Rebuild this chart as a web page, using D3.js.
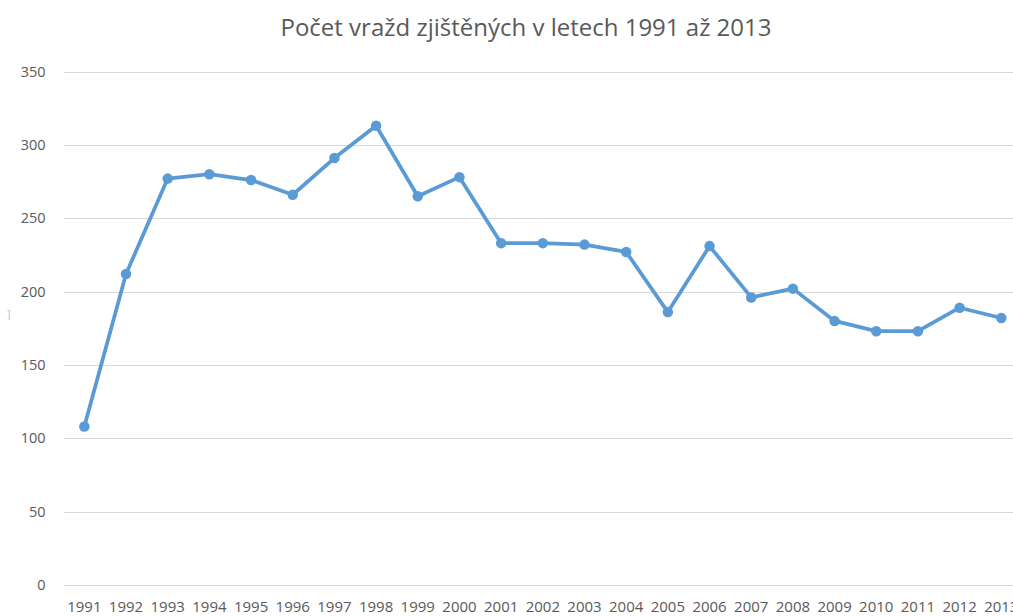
<!DOCTYPE html>
<html>
<head>
<meta charset="utf-8">
<script src="https://cdn.jsdelivr.net/npm/d3@7"></script>
<style>
  html, body { margin: 0; padding: 0; background: #fff; }
  svg { display: block; }
  text { font-family: "Open Sans", "Noto Sans", sans-serif; }
</style>
</head>
<body>
<svg id="chart" width="1013" height="616"></svg>
<script>
const title = "Počet vražd zjištěných v letech 1991 až 2013";
const years = ["1991","1992","1993","1994","1995","1996","1997","1998","1999","2000","2001","2002","2003","2004","2005","2006","2007","2008","2009","2010","2011","2012","2013"];
const murders = [108, 212, 277, 280, 276, 266, 291, 313, 265, 278, 233, 233, 232, 227, 186, 231, 196, 202, 180, 173, 173, 189, 182];
const yTicks = [0, 50, 100, 150, 200, 250, 300, 350];

const svg = d3.select("#chart");
const W = 1013, H = 616;
const plotLeft = 63.5, plotTop = 71.5, plotBottom = 585;

const x = d3.scaleBand().domain(years).range([plotLeft, plotLeft + 23 * 41.68]).padding(0);
const y = d3.scaleLinear().domain([0, 350]).range([plotBottom, plotTop]);
const cx = d => x(d) + x.bandwidth() / 2;

// title
svg.append("text")
  .attr("x", 526).attr("y", 36)
  .attr("text-anchor", "middle")
  .attr("font-size", 24)
  .attr("fill", "#595959")
  .text(title);

// gridlines
svg.append("g").selectAll("line").data(yTicks).join("line")
  .attr("x1", plotLeft).attr("x2", W)
  .attr("y1", d => Math.round(y(d)) + 0.5).attr("y2", d => Math.round(y(d)) + 0.5)
  .attr("stroke", "#D9D9D9").attr("stroke-width", 1);

// y axis
const yAxis = svg.append("g")
  .attr("transform", `translate(${plotLeft - 18},0)`)
  .call(d3.axisLeft(y).tickValues(yTicks).tickSize(0).tickPadding(0));
yAxis.select(".domain").remove();
yAxis.selectAll("text").attr("font-size", 14.5).attr("fill", "#595959")
  .attr("font-family", "\"Open Sans\", \"Noto Sans\", sans-serif");

// x axis
const xAxis = svg.append("g")
  .attr("transform", `translate(0,${plotBottom})`)
  .call(d3.axisBottom(x).tickSize(0).tickPadding(16));
xAxis.select(".domain").remove();
xAxis.selectAll("text").attr("font-size", 15).attr("fill", "#595959")
  .attr("font-family", "\"Open Sans\", \"Noto Sans\", sans-serif");

// stray axis-title fragment
svg.append("text").attr("x", 7).attr("y", 318).attr("font-size", 11).attr("fill", "#C0C0C0").text("]");

// line
const line = d3.line().x((d, i) => cx(years[i])).y(d => y(d));
svg.append("path").datum(murders)
  .attr("d", line)
  .attr("fill", "none")
  .attr("stroke", "#5B9BD5")
  .attr("stroke-width", 3.75)
  .attr("stroke-linejoin", "round");

svg.append("g").selectAll("circle").data(murders).join("circle")
  .attr("cx", (d, i) => cx(years[i]))
  .attr("cy", d => y(d))
  .attr("r", 5.25)
  .attr("fill", "#5B9BD5");
</script>
</body>
</html>
